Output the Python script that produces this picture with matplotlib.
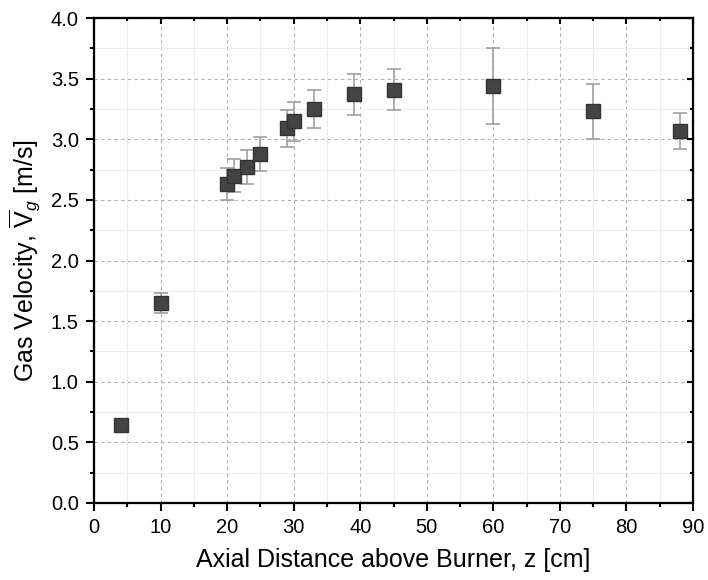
import matplotlib
matplotlib.use("Agg")
import matplotlib.pyplot as plt
from matplotlib.ticker import MultipleLocator, FormatStrFormatter

# data
z = [4, 10, 20, 21, 23, 25, 29, 30, 33, 39, 45, 60, 75, 88]
vg = [0.64, 1.65, 2.63, 2.70, 2.77, 2.88, 3.09, 3.15, 3.25, 3.37, 3.41, 3.44, 3.23, 3.07]
err = [0.0, 0.08, 0.13, 0.135, 0.14, 0.14, 0.155, 0.16, 0.16, 0.17, 0.17, 0.31, 0.23, 0.15]

plt.rcParams['font.family'] = ['Liberation Sans', 'DejaVu Sans']
plt.rcParams['mathtext.fontset'] = 'custom'
plt.rcParams['mathtext.rm'] = 'Liberation Sans'
plt.rcParams['mathtext.it'] = 'Liberation Sans:italic'

fig = plt.figure(figsize=(7.08, 5.8), dpi=100)
ax = fig.add_axes([0.1328, 0.1328, 0.846, 0.836])

ax.errorbar(z, vg, yerr=err, fmt='s', color='#444444', ms=10, mec='#333333',
            ecolor='#a0a0a0', elinewidth=1.2, capsize=5, capthick=1.2, zorder=3)

ax.set_xlim(0, 90)
ax.set_ylim(0, 4.0)
ax.xaxis.set_major_locator(MultipleLocator(10))
ax.xaxis.set_minor_locator(MultipleLocator(5))
ax.yaxis.set_major_locator(MultipleLocator(0.5))
ax.yaxis.set_minor_locator(MultipleLocator(0.25))
ax.yaxis.set_major_formatter(FormatStrFormatter('%.1f'))

ax.grid(which='major', color='#b0b0b0', linestyle=(0, (3, 3)), linewidth=0.8)
ax.grid(which='minor', color='#ececec', linestyle='-', linewidth=0.8)
ax.set_axisbelow(True)

for s in ax.spines.values():
    s.set_linewidth(1.5)
ax.tick_params(which='both', direction='out', width=1.5, labelsize=14.5,
               top=False, right=False, pad=5)
ax.tick_params(which='major', length=6)
ax.tick_params(which='minor', length=3)

# inward ticks on top and right
ax2 = ax.twinx()
ax2.set_ylim(ax.get_ylim())
ax2.yaxis.set_major_locator(MultipleLocator(0.5))
ax2.yaxis.set_minor_locator(MultipleLocator(0.25))
ax2.tick_params(which='both', direction='in', width=1.5, labelright=False)
ax2.tick_params(which='major', length=4)
ax2.tick_params(which='minor', length=2.5)
ax3 = ax.twiny()
ax3.set_xlim(ax.get_xlim())
ax3.xaxis.set_major_locator(MultipleLocator(10))
ax3.xaxis.set_minor_locator(MultipleLocator(5))
ax3.tick_params(which='both', direction='in', width=1.5, labeltop=False)
ax3.tick_params(which='major', length=4)
ax3.tick_params(which='minor', length=2.5)
for a in (ax2, ax3):
    for s in a.spines.values():
        s.set_linewidth(1.5)

ax.set_xlabel('Axial Distance above Burner, z [cm]', fontsize=18, labelpad=8)
ax.set_ylabel(r'Gas Velocity, $\overline{\mathrm{V}}_\mathit{g}$ [m/s]', fontsize=18, labelpad=6)

fig.savefig('out.png', dpi=100)
